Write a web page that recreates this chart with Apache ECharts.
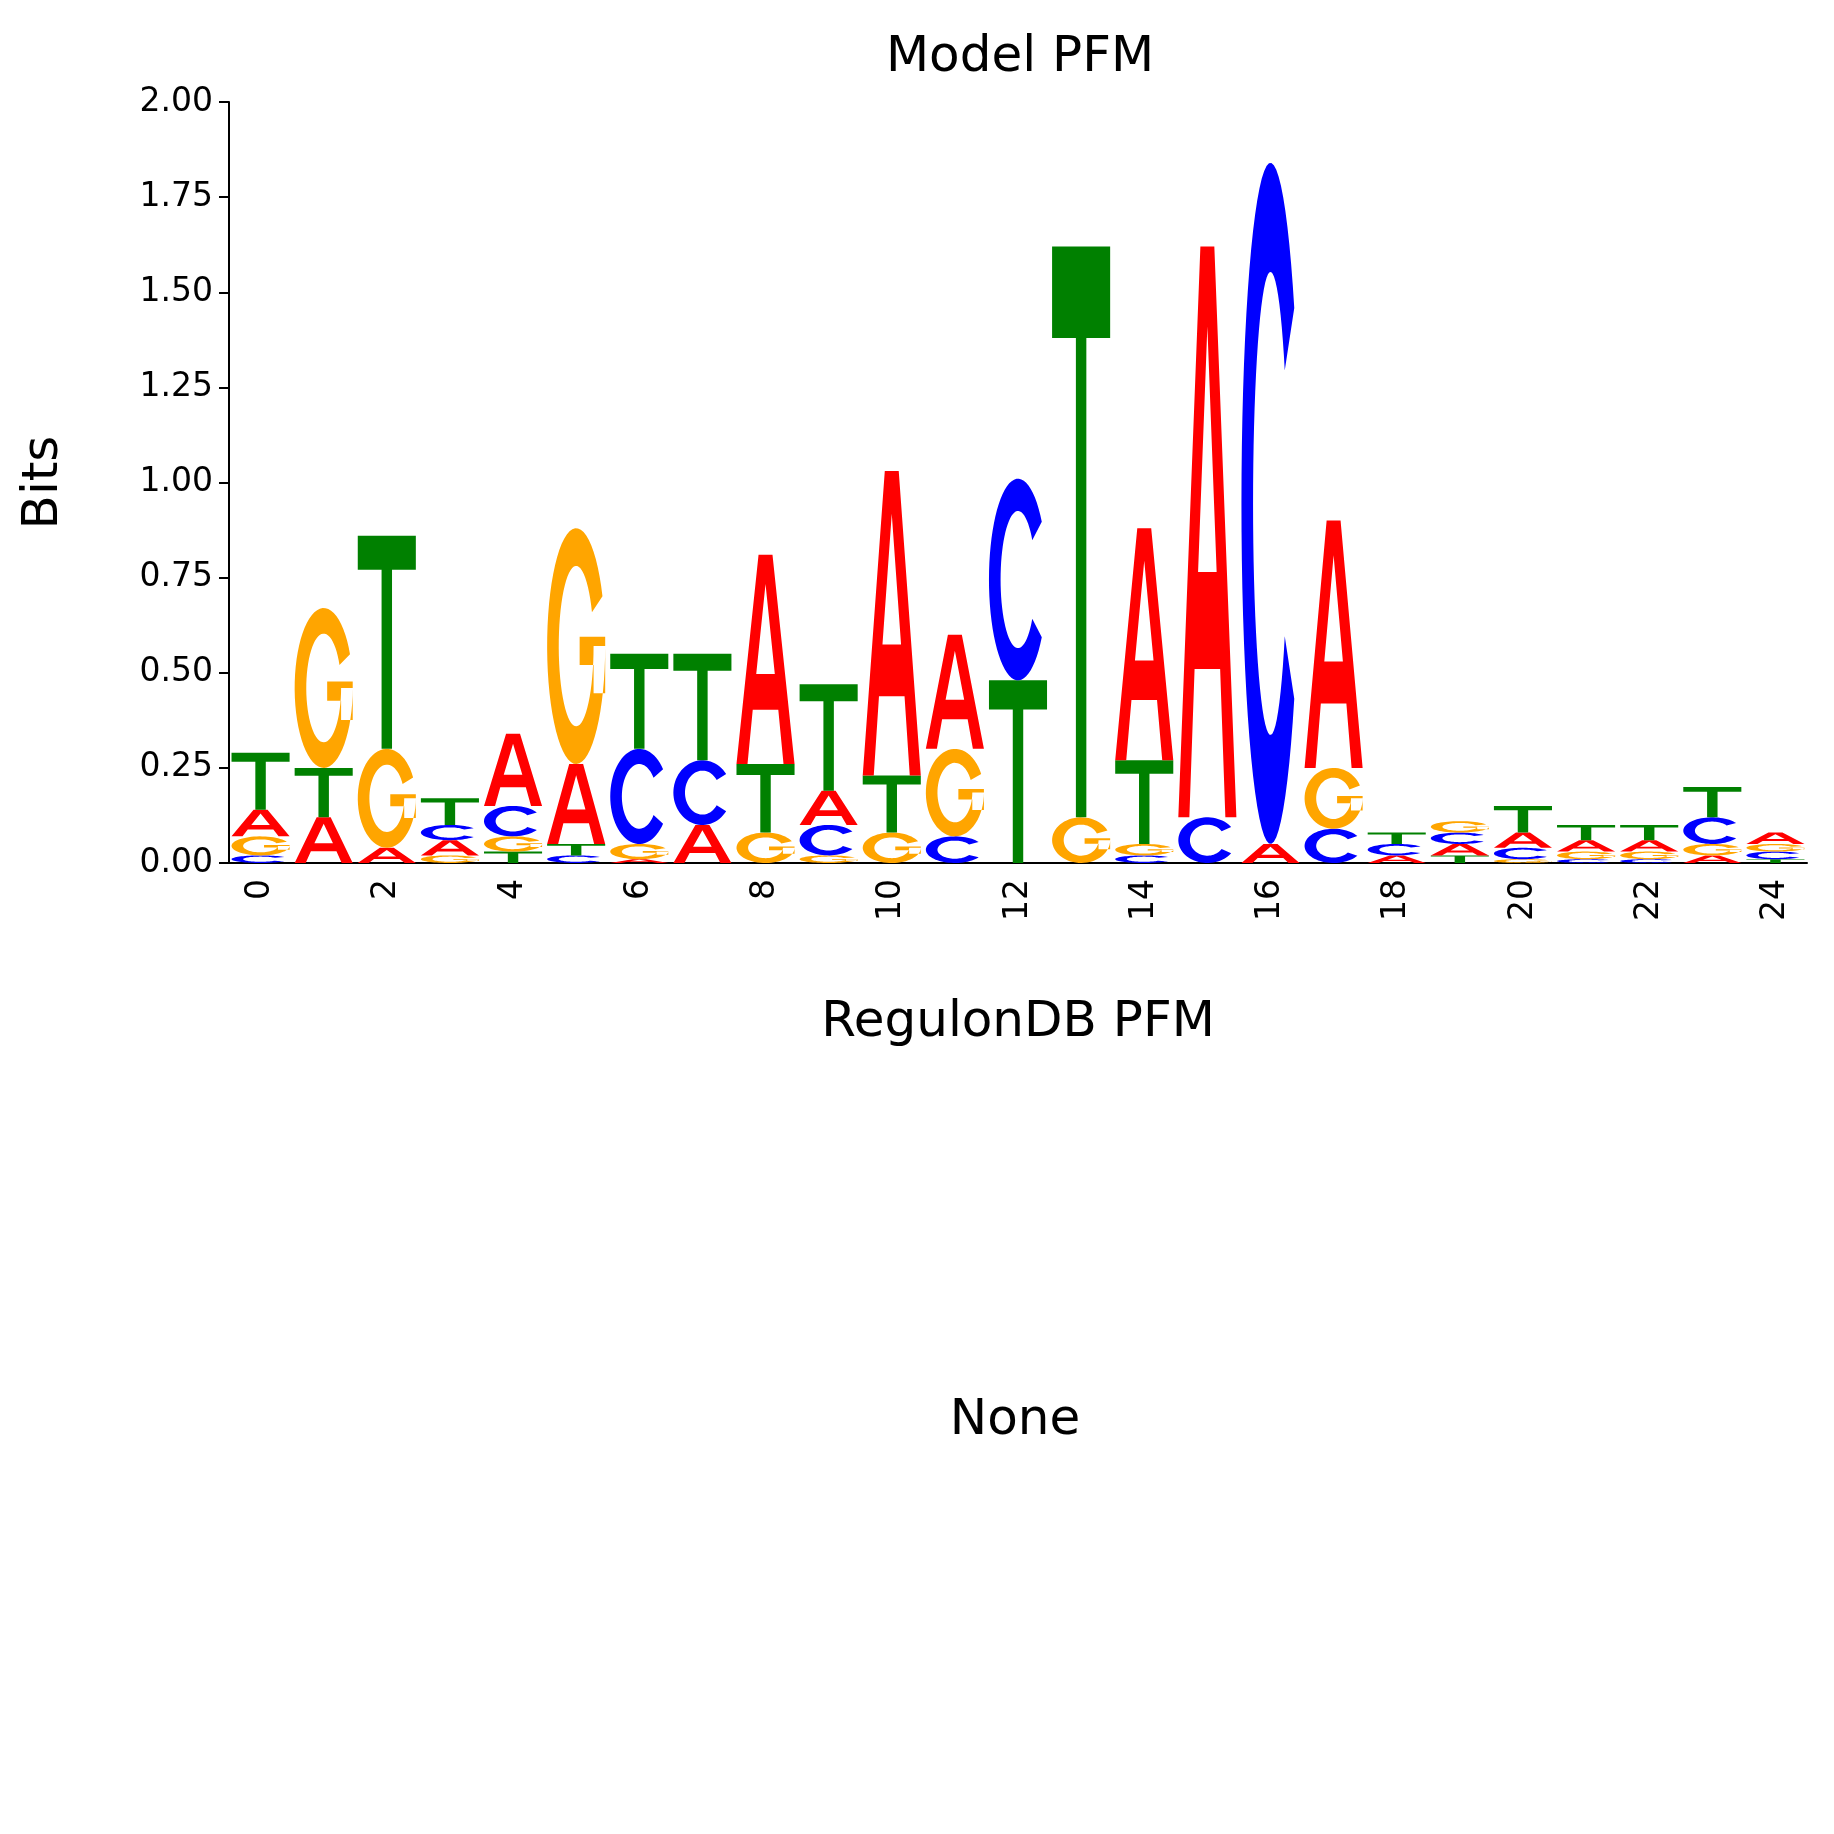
<!DOCTYPE html>
<html><head><meta charset="utf-8">
<script src="https://cdn.jsdelivr.net/npm/echarts@6/dist/echarts.min.js"></script>
<style>html,body{margin:0;padding:0;background:#fff}#c{width:1834px;height:1834px}</style>
</head><body><div id="c"></div>
<script>
const positions = Array.from({length:25},(_, i)=>String(i));
const heightA = [0.07,0.12,0.04,0.04,0.19,0.21,0.01,0.10,0.55,0.09,0.80,0.30,0.00,0.00,0.61,1.50,0.05,0.65,0.02,0.03,0.04,0.03,0.03,0.02,0.03];
const heightC = [0.02,0.00,0.00,0.04,0.08,0.02,0.25,0.17,0.00,0.08,0.00,0.07,0.53,0.00,0.02,0.12,1.79,0.09,0.03,0.03,0.03,0.01,0.01,0.07,0.02];
const heightG = [0.05,0.42,0.26,0.02,0.04,0.62,0.04,0.00,0.08,0.02,0.08,0.23,0.00,0.12,0.03,0.00,0.00,0.16,0.00,0.03,0.01,0.02,0.02,0.03,0.02];
const heightT = [0.15,0.13,0.56,0.07,0.03,0.03,0.25,0.28,0.18,0.28,0.15,0.00,0.48,1.50,0.22,0.00,0.00,0.00,0.03,0.02,0.07,0.04,0.04,0.08,0.01];
const letters = ['A','C','G','T'];
const colors = {A:'#ff0000',C:'#0000ff',G:'#ffa500',T:'#008000'};
const heights = {A:heightA,C:heightC,G:heightG,T:heightT};

function ring(a0,a1,ro,ri,extra){
  let pts=[],n=60;
  for(let i=0;i<=n;i++){const a=(a0+(a1-a0)*i/n)*Math.PI/180;pts.push([50+ro*Math.cos(a),50-50*Math.sin(a)]);}
  for(let i=n;i>=0;i--){const a=(a0+(a1-a0)*i/n)*Math.PI/180;pts.push([50+ri*Math.cos(a),50-34*Math.sin(a)]);}
  return 'M'+pts.map(p=>p[0].toFixed(2)+','+p[1].toFixed(2)).join(' L')+' Z';
}
const paths = {
  T:'M0,0 L100,0 L100,16 L59,16 L59,100 L41,100 L41,16 L0,16 Z',
  A:'M0,100 L38,0 L62,0 L100,100 L81,100 L72,74 L28,74 L19,100 Z M34,57 L66,57 L50,14 Z',
  C:ring(35,325,50,30),
  G:ring(25,360,50,30)+' M56,46 L100,46 L100,70 L80,70 L80,58 L56,58 Z'
};

const data=[];
positions.forEach((p,i)=>{
  const stack=letters.map(l=>({l,h:heights[l][i]})).filter(o=>o.h>0).sort((a,b)=>a.h-b.h);
  let base=0;
  stack.forEach(o=>{data.push([i,base,base+o.h,o.l]);base+=o.h;});
});

const chart=echarts.init(document.getElementById('c'));
chart.setOption({
  animation:false,
  title:{text:'Model PFM',left:1015,top:28,textAlign:'center',textStyle:{fontSize:50,fontWeight:'normal',color:'#000',fontFamily:'DejaVu Sans'}},
  grid:{left:229,right:27,top:102,bottom:971},
  xAxis:{type:'category',data:positions,boundaryGap:true,name:'RegulonDB PFM',nameLocation:'middle',nameGap:135,
    nameTextStyle:{fontSize:50,color:'#000',fontFamily:'DejaVu Sans'},
    axisLine:{lineStyle:{color:'#000',width:2}},
    axisTick:{alignWithLabel:true,interval:1,length:10,lineStyle:{color:'#000',width:2}},
    axisLabel:{interval:1,rotate:90,fontSize:33,color:'#000',margin:16,fontFamily:'DejaVu Sans'}},
  yAxis:{type:'value',min:0,max:2,interval:0.25,name:'Bits',nameLocation:'middle',nameGap:160,
    nameTextStyle:{fontSize:50,color:'#000',fontFamily:'DejaVu Sans'},
    axisLine:{show:true,lineStyle:{color:'#000',width:2}},
    axisTick:{show:true,length:10,lineStyle:{color:'#000',width:2}},
    splitLine:{show:false},
    axisLabel:{fontSize:33,color:'#000',margin:16,formatter:v=>v.toFixed(2),fontFamily:'DejaVu Sans'}},
  graphic:[{type:'text',x:1015,y:1421,style:{text:'None',fontSize:50,fill:'#000',fontFamily:'DejaVu Sans',align:'center',verticalAlign:'middle'}}],
  series:[{type:'custom',data:data,encode:{x:0,y:[1,2]},clip:false,
    renderItem:(params,api)=>{
      const i=api.value(0),b=api.value(1),t=api.value(2),l=data[params.dataIndex][3];
      const p0=api.coord([i,b]),p1=api.coord([i,t]);
      const w=api.size([1,0])[0]*0.92;
      const h=Math.max(p0[1]-p1[1],0.5);
      return {type:'path',x:p0[0]-w/2,y:p1[1],scaleX:w/100,scaleY:h/100,
        shape:{pathData:paths[l]},style:{fill:colors[l]}};
    }}]
});
</script></body></html>
